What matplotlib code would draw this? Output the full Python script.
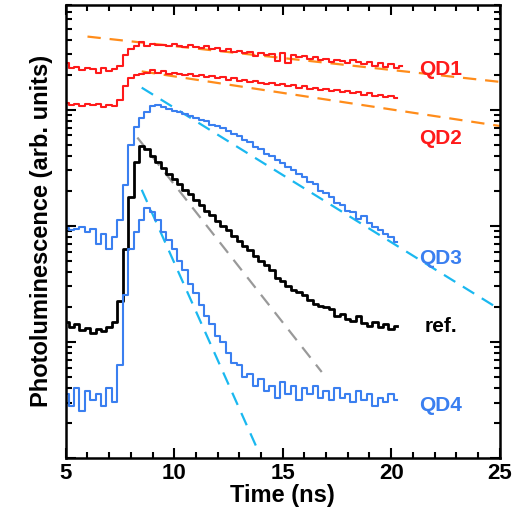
import numpy as np
import matplotlib.pyplot as plt
from matplotlib.ticker import LogLocator, NullFormatter, MultipleLocator

plt.rcParams['font.family'] = ['Liberation Sans', 'DejaVu Sans']
plt.rcParams['font.weight'] = 'bold'

# time grid (ns), 0.25 ns bins
t = 5.0 + 0.25 * np.arange(63)

# log10 of the PL counts for each trace
qd1 = [3.40, 3.36, 3.37, 3.34, 3.36, 3.35, 3.32, 3.36, 3.33, 3.35, 3.38, 3.47, 3.52, 3.55, 3.58, 3.55,
       3.57, 3.56, 3.56, 3.55, 3.57, 3.55, 3.54, 3.56, 3.54, 3.53, 3.55, 3.52, 3.53, 3.51, 3.52, 3.50,
       3.51, 3.49, 3.50, 3.46, 3.49, 3.47, 3.48, 3.42, 3.49, 3.40, 3.47, 3.45, 3.46, 3.44, 3.45, 3.43,
       3.44, 3.41, 3.43, 3.42, 3.40, 3.43, 3.41, 3.39, 3.41, 3.38, 3.40, 3.37, 3.39, 3.36, 3.38]
qd2 = [3.06, 3.04, 3.05, 3.03, 3.05, 3.04, 3.05, 3.02, 3.04, 3.03, 3.08, 3.20, 3.27, 3.30, 3.31, 3.32,
       3.34, 3.32, 3.33, 3.31, 3.32, 3.31, 3.30, 3.31, 3.29, 3.30, 3.28, 3.29, 3.27, 3.28, 3.26, 3.27,
       3.25, 3.26, 3.24, 3.25, 3.23, 3.22, 3.23, 3.21, 3.22, 3.20, 3.21, 3.19, 3.20, 3.18, 3.19, 3.17,
       3.18, 3.16, 3.17, 3.15, 3.16, 3.14, 3.15, 3.13, 3.14, 3.12, 3.13, 3.11, 3.12, 3.10]
qd3 = [1.98, 1.96, 1.97, 1.99, 1.95, 1.97, 1.84, 1.93, 1.80, 1.90, 2.05, 2.35, 2.70, 2.85, 2.93, 2.98,
       3.03, 3.04, 3.02, 3.01, 2.99, 2.98, 2.96, 2.95, 2.93, 2.91, 2.90, 2.87, 2.86, 2.84, 2.82, 2.79,
       2.77, 2.74, 2.72, 2.68, 2.66, 2.62, 2.60, 2.57, 2.54, 2.51, 2.48, 2.45, 2.42, 2.38, 2.36, 2.30,
       2.28, 2.25, 2.20, 2.18, 2.13, 2.12, 2.06, 2.08, 2.02, 1.99, 1.96, 1.93, 1.90, 1.86]
ref = [1.17, 1.13, 1.15, 1.10, 1.12, 1.08, 1.11, 1.09, 1.13, 1.17, 1.35, 1.80, 2.25, 2.55, 2.69, 2.66,
       2.60, 2.55, 2.50, 2.45, 2.40, 2.36, 2.31, 2.27, 2.22, 2.18, 2.13, 2.09, 2.04, 2.00, 1.96, 1.91,
       1.87, 1.83, 1.79, 1.74, 1.70, 1.66, 1.62, 1.55, 1.52, 1.48, 1.45, 1.43, 1.40, 1.36, 1.33, 1.31,
       1.30, 1.28, 1.22, 1.24, 1.20, 1.18, 1.22, 1.16, 1.14, 1.17, 1.13, 1.15, 1.11, 1.14]
qd4 = [0.55, 0.45, 0.60, 0.40, 0.58, 0.50, 0.55, 0.45, 0.60, 0.48, 0.80, 1.40, 1.80, 1.95, 2.05, 2.15,
       2.12, 2.05, 1.95, 1.88, 1.80, 1.70, 1.62, 1.50, 1.42, 1.32, 1.22, 1.15, 1.05, 1.00, 0.90, 0.82,
       0.80, 0.70, 0.72, 0.62, 0.68, 0.58, 0.62, 0.52, 0.65, 0.55, 0.62, 0.50, 0.60, 0.55, 0.62, 0.52,
       0.58, 0.50, 0.60, 0.52, 0.55, 0.48, 0.58, 0.50, 0.55, 0.45, 0.52, 0.48, 0.55, 0.50]

# exponential fits: (t0, log10 I0, t1, log10 I1)
fits = {
    'qd1': (6.0, 3.63, 25.0, 3.24),
    'qd2': (8.5, 3.33, 25.0, 2.86),
    'qd3': (8.5, 3.19, 25.0, 1.28),
    'ref': (8.3, 2.76, 16.8, 0.74),
    'qd4': (8.5, 2.31, 13.8, 0.09),
}

red, blue, cyan, orange, gray = '#ff1a1a', '#3a7ff0', '#1ab8f0', '#ff8c1a', '#999999'
traces = [('qd1', qd1, red, 1.5), ('qd2', qd2, red, 1.5), ('qd3', qd3, blue, 1.5),
          ('ref', ref, 'black', 2.0), ('qd4', qd4, blue, 1.5)]
fit_colors = {'qd1': orange, 'qd2': orange, 'qd3': cyan, 'ref': gray, 'qd4': cyan}
labels = [('QD1', 3.35, red), ('QD2', 2.75, red), ('QD3', 1.72, blue),
          ('ref.', 1.13, 'black'), ('QD4', 0.45, blue)]

fig = plt.figure(figsize=(5.14, 5.18), dpi=100)
ax = fig.add_axes([0.128, 0.116, 0.844, 0.875])

for name, (x0, l0, x1, l1) in fits.items():
    ax.plot([x0, x1], [10 ** l0, 10 ** l1], ls=(0, (6, 4)), color=fit_colors[name], lw=1.6)

for name, vals, c, lw in traces:
    ax.plot(t[:len(vals)], 10 ** np.array(vals), drawstyle='steps-mid', color=c, lw=lw)

for txt, ly, c in labels:
    ax.text(22.3, 10 ** ly, txt, color=c, fontsize=15, fontweight='bold', ha='center', va='center')

ax.set_yscale('log')
ax.set_xlim(5, 25)
ax.set_ylim(1, 10 ** 3.905)
ax.xaxis.set_major_locator(MultipleLocator(5))
ax.xaxis.set_minor_locator(MultipleLocator(1))
ax.yaxis.set_major_locator(LogLocator(base=10))
ax.yaxis.set_minor_locator(LogLocator(base=10, subs=np.arange(2, 10)))
ax.yaxis.set_major_formatter(NullFormatter())
ax.yaxis.set_minor_formatter(NullFormatter())
ax.tick_params(which='both', direction='in', top=True, right=True, width=1.5, labelsize=16)
ax.tick_params(which='major', length=7)
ax.tick_params(which='minor', length=4)
for s in ax.spines.values():
    s.set_linewidth(1.8)
ax.set_xlabel('Time (ns)', fontsize=17, fontweight='bold', labelpad=0)
ax.set_ylabel('Photoluminescence (arb. units)', fontsize=17, fontweight='bold', labelpad=6)

fig.savefig('out.png', dpi=100)
